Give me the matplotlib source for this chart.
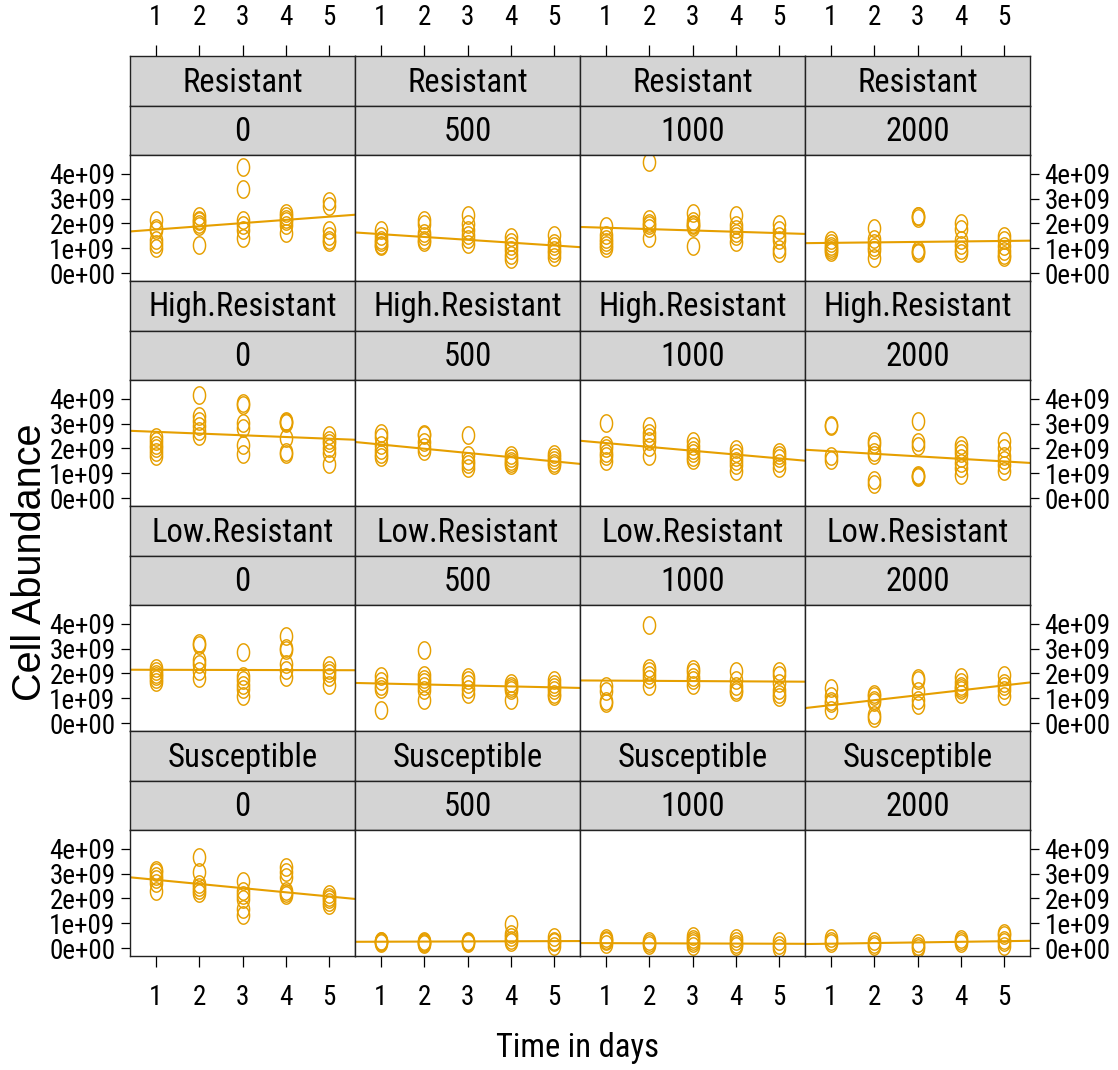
import numpy as np
import matplotlib
matplotlib.use("Agg")
import matplotlib.pyplot as plt
from matplotlib.path import Path

# ---------------- data (cell abundance in units of 1e9) ----------------
groups = ["Resistant", "High.Resistant", "Low.Resistant", "Susceptible"]
doses = ["0", "500", "1000", "2000"]
days = [1, 2, 3, 4, 5]

# values per panel: one list of replicate values per day
res_0 = [[2.15, 1.82, 1.72, 1.35, 1.19, 1.01], [2.29, 2.15, 2.08, 1.99, 1.91, 1.15],
         [4.27, 3.38, 2.15, 1.95, 1.72, 1.42], [2.42, 2.29, 2.18, 2.08, 1.95, 1.62],
         [2.89, 2.71, 1.72, 1.51, 1.35, 1.24]]
res_500 = [[1.75, 1.48, 1.32, 1.24, 1.15, 1.08], [2.15, 1.99, 1.62, 1.48, 1.35, 1.24],
           [2.35, 1.99, 1.75, 1.55, 1.38, 1.19], [1.44, 1.24, 1.08, 0.92, 0.75, 0.57],
           [1.55, 1.21, 1.08, 0.95, 0.81, 0.65]]
res_1000 = [[1.88, 1.55, 1.38, 1.24, 1.15, 1.01], [4.46, 2.18, 2.02, 1.95, 1.82, 1.42],
            [2.42, 2.08, 1.99, 1.95, 1.86, 1.08], [2.35, 1.95, 1.78, 1.62, 1.48, 1.24],
            [1.99, 1.72, 1.51, 1.32, 0.97, 0.81]]
res_2000 = [[1.32, 1.21, 1.11, 1.01, 0.92, 0.84], [1.82, 1.38, 1.21, 1.05, 0.92, 0.61],
            [2.31, 2.29, 2.22, 0.92, 0.84, 0.81], [2.02, 1.78, 1.35, 1.15, 0.95, 0.81],
            [1.48, 1.32, 1.08, 0.88, 0.75, 0.65]]

hr_0 = [[2.45, 2.29, 2.15, 2.02, 1.86, 1.68], [4.13, 3.29, 3.09, 2.89, 2.69, 2.49],
        [3.83, 3.73, 3.02, 2.82, 2.15, 1.78], [3.12, 3.08, 3.02, 2.42, 1.86, 1.78],
        [2.55, 2.35, 2.22, 2.02, 1.82, 1.38]]
hr_500 = [[2.62, 2.45, 2.15, 1.95, 1.78, 1.64], [2.58, 2.53, 2.26, 2.05, 1.91],
          [2.53, 1.72, 1.51, 1.38, 1.21], [1.72, 1.62, 1.51, 1.42, 1.32],
          [1.78, 1.67, 1.55, 1.42, 1.32]]
hr_1000 = [[3.02, 2.15, 2.02, 1.82, 1.68, 1.51], [2.89, 2.62, 2.45, 2.29, 2.05, 1.68],
           [2.29, 2.08, 1.95, 1.82, 1.64, 1.55], [1.99, 1.82, 1.64, 1.48, 1.32, 1.08],
           [1.86, 1.72, 1.62, 1.42, 1.21]]
hr_2000 = [[2.96, 2.89, 1.68, 1.55], [2.29, 2.18, 1.86, 1.72, 0.75, 0.57],
           [3.12, 2.26, 2.08, 0.95, 0.88, 0.84], [2.15, 1.99, 1.82, 1.62, 1.42, 1.21, 0.92],
           [2.31, 2.02, 1.68, 1.55, 1.32, 1.11]]

lr_0 = [[2.22, 2.08, 1.99, 1.88, 1.78, 1.64], [3.22, 3.16, 2.55, 2.39, 2.08, 1.82],
        [2.85, 1.91, 1.72, 1.55, 1.38, 1.11], [3.49, 3.02, 2.96, 2.39, 2.15, 1.86],
        [2.35, 2.15, 2.02, 1.86, 1.55]]
lr_500 = [[1.91, 1.68, 1.51, 1.38, 0.55], [2.93, 1.95, 1.78, 1.64, 1.48, 1.32, 0.95],
          [1.86, 1.72, 1.59, 1.38, 1.19], [1.62, 1.51, 1.42, 1.32, 0.95],
          [1.72, 1.59, 1.46, 1.32, 1.19, 1.08]]
lr_1000 = [[1.48, 1.28, 0.88, 0.81], [3.96, 2.22, 2.08, 1.95, 1.78, 1.51],
           [2.18, 2.05, 1.86, 1.72, 1.55], [2.08, 1.72, 1.51, 1.32, 1.24],
           [2.08, 1.95, 1.62, 1.32, 1.19, 1.05]]
lr_2000 = [[1.42, 1.08, 0.88, 0.81, 0.55], [1.19, 1.08, 0.95, 0.84, 0.34, 0.21],
           [1.82, 1.72, 1.28, 0.95, 0.75], [1.86, 1.64, 1.51, 1.42, 1.32, 1.19],
           [1.95, 1.62, 1.48, 1.32, 1.08]]

sus_0 = [[3.16, 3.05, 2.92, 2.79, 2.63, 2.32], [3.65, 3.05, 2.59, 2.45, 2.36, 2.23],
         [2.72, 2.32, 2.15, 1.98, 1.58, 1.32], [3.25, 3.05, 2.85, 2.32, 2.23, 2.12],
         [2.19, 2.05, 1.96, 1.85, 1.75]]
sus_500 = [[0.30, 0.28, 0.25, 0.21], [0.30, 0.26, 0.23, 0.16],
           [0.30, 0.26, 0.21], [0.96, 0.58, 0.45, 0.34, 0.24],
           [0.45, 0.30, 0.24, 0.10]]
sus_1000 = [[0.41, 0.34, 0.28, 0.17], [0.28, 0.21, 0.14],
            [0.48, 0.39, 0.30, 0.21, 0.11], [0.41, 0.30, 0.17, 0.08],
            [0.30, 0.14, 0.01]]
sus_2000 = [[0.41, 0.28, 0.21], [0.28, 0.17, 0.11],
            [0.21, 0.11, 0.01], [0.39, 0.28, 0.21],
            [0.61, 0.52, 0.34, 0.24, 0.10]]

values = [[res_0, res_500, res_1000, res_2000],
          [hr_0, hr_500, hr_1000, hr_2000],
          [lr_0, lr_500, lr_1000, lr_2000],
          [sus_0, sus_500, sus_1000, sus_2000]]

# fitted regression lines (intercept, slope)
fit_intercept = [[1.628, 1.685, 1.882, 1.202],
                 [2.738, 2.328, 2.372, 1.991],
                 [2.152, 1.635, 1.724, 0.531],
                 [2.917, 0.258, 0.212, 0.160]]
fit_slope = [[0.129, -0.1135, -0.0538, 0.0192],
             [-0.0692, -0.169, -0.154, -0.102],
             [-0.0038, -0.0385, -0.0096, 0.198],
             [-0.167, 0.0058, -0.0058, 0.025]]

y_ticks = [0, 1, 2, 3, 4]
y_tick_labels = ["0e+00", "1e+09", "2e+09", "3e+09", "4e+09"]
x_tick_labels = ["1", "2", "3", "4", "5"]

# ---------------- style ----------------
COL = "#E69F00"
STRIP = "#D4D4D4"
NARROW = ["Roboto Condensed", "Archivo Narrow", "DejaVu Sans"]
plt.rcParams["font.family"] = NARROW

W, H = 1118, 1070
fig = plt.figure(figsize=(W / 100, H / 100), dpi=100)


def rect(x0, y0, x1, y1):
    return [x0 / W, 1 - y1 / H, (x1 - x0) / W, (y1 - y0) / H]


t = np.linspace(0, 2 * np.pi, 64)
ellipse = Path(np.column_stack([0.70 * np.cos(t), np.sin(t)]), closed=True)

XLIM = (0.40, 5.60)
YLIM = (-0.31, 4.75)
TICK_FS = 19.5

for r in range(4):
    for c in range(4):
        x0 = 130 + 225 * c
        x1 = x0 + 225
        s1 = 56 + 225 * r
        s2 = 106 + 225 * r
        p0 = 155 + 225 * r
        p1 = 281 + 225 * r

        # strips
        for (ya, yb, txt, top) in [(s1, s2, groups[r], True), (s2, p0, doses[c], False)]:
            sa = fig.add_axes(rect(x0, ya, x1, yb))
            sa.set_facecolor(STRIP)
            sa.set_xlim(*XLIM)
            sa.set_ylim(0, 1)
            sa.set_yticks([])
            for sp in sa.spines.values():
                sp.set_linewidth(1.0)
                sp.set_color("#222222")
            if top and r == 0:
                sa.xaxis.tick_top()
                sa.set_xticks(days)
                sa.set_xticklabels(x_tick_labels)
                sa.tick_params(axis="x", direction="out", length=8, width=0.9,
                               pad=10, labelsize=TICK_FS)
            else:
                sa.set_xticks([])
            sa.text(0.5, 0.47, txt, transform=sa.transAxes, ha="center",
                    va="center", fontsize=23.5)

        ax = fig.add_axes(rect(x0, p0, x1, p1))
        ax.set_xlim(*XLIM)
        ax.set_ylim(*YLIM)
        for sp in ax.spines.values():
            sp.set_linewidth(1.0)
            sp.set_color("#222222")

        vals = values[r][c]
        for d, vs in zip(days, vals):
            ax.plot([d] * len(vs), vs, linestyle="none", marker=ellipse,
                    markersize=12.5, markerfacecolor="none",
                    markeredgecolor=COL, markeredgewidth=1.05)
        xx = np.array(XLIM)
        ax.plot(xx, fit_intercept[r][c] + fit_slope[r][c] * xx, color=COL,
                lw=1.5)

        ax.set_xticks(days)
        ax.set_yticks(y_ticks)
        if r == 3:
            ax.set_xticklabels(x_tick_labels)
            ax.tick_params(axis="x", bottom=True, labelbottom=True,
                           direction="out", length=8, width=0.9, pad=12,
                           labelsize=TICK_FS)
        else:
            ax.tick_params(axis="x", bottom=False, labelbottom=False)
        ax.set_yticklabels(y_tick_labels)
        ax.tick_params(axis="y", left=(c == 0), labelleft=(c == 0),
                       right=(c == 3), labelright=(c == 3),
                       direction="out", length=6.5, width=0.9, pad=4,
                       labelsize=TICK_FS)

fig.text(578 / W, 1 - 1048 / H, "Time in days", ha="center", va="center",
         fontsize=23.5)
fig.text(30 / W, 1 - 562 / H, "Cell Abundance", ha="center", va="center",
         rotation=90, fontsize=28.5, family=["Liberation Sans", "DejaVu Sans"])

fig.savefig("out.png", dpi=100)
